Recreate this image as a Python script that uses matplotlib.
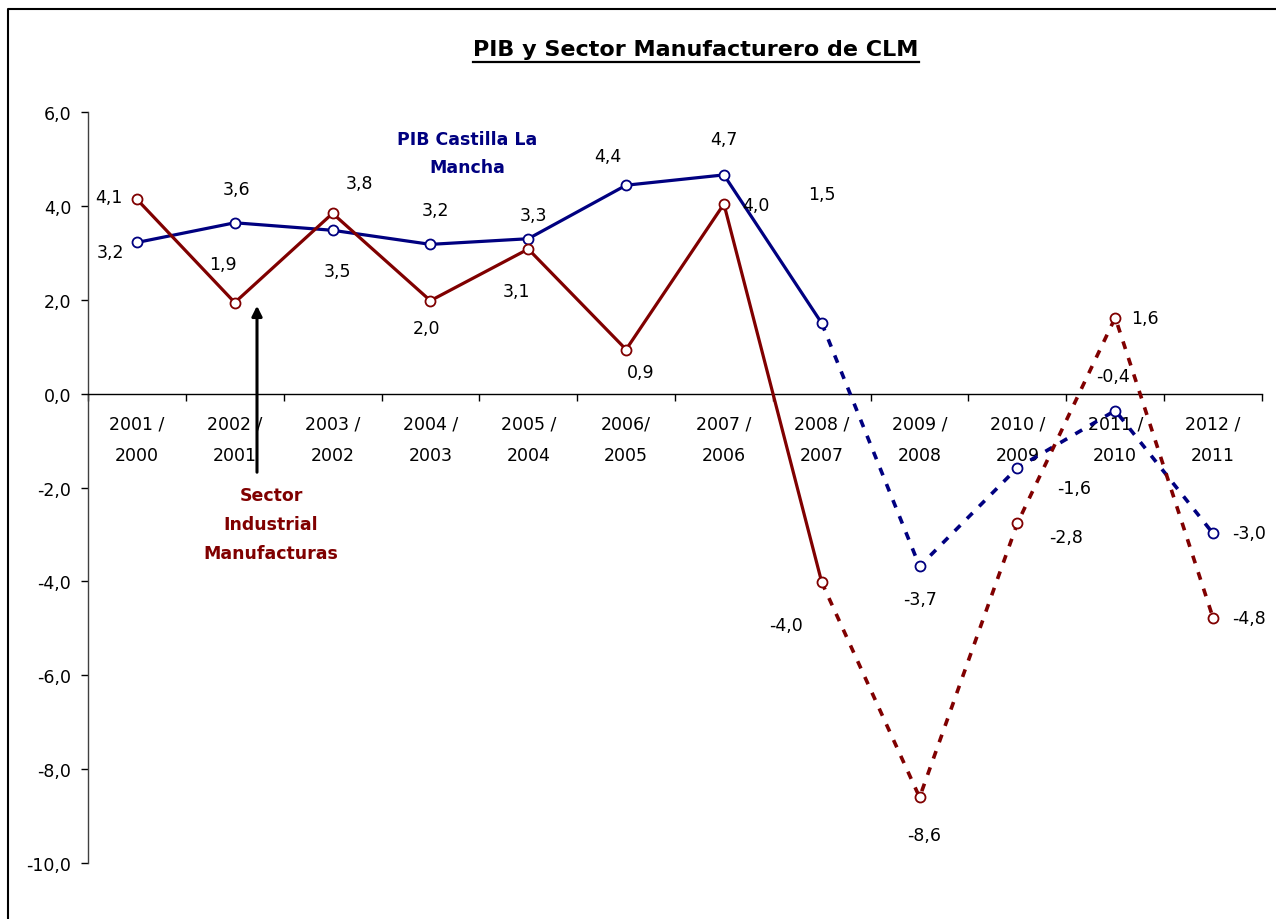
import matplotlib
matplotlib.use("Agg")
import matplotlib.pyplot as plt
import matplotlib.patches as mpatches
from matplotlib.ticker import FuncFormatter, FixedLocator
from matplotlib.lines import Line2D

plt.rcParams['font.family'] = ['DejaVu Sans']

periodos = ["2001 /\n2000", "2002 /\n2001", "2003 /\n2002", "2004 /\n2003",
            "2005 /\n2004", "2006/\n2005", "2007 /\n2006", "2008 /\n2007",
            "2009 /\n2008", "2010 /\n2009", "2011 /\n2010", "2012 /\n2011"]
pib = [3.22, 3.64, 3.48, 3.18, 3.30, 4.44, 4.66, 1.50, -3.68, -1.58, -0.36, -2.98]
manuf = [4.14, 1.94, 3.84, 1.98, 3.08, 0.94, 4.04, -4.02, -8.60, -2.76, 1.62, -4.78]
ultimo_real = 7  # desde aqui son previsiones (linea discontinua)

AZUL = "#000080"
ROJO = "#800000"
FS = 12.5

# desplazamiento de las etiquetas en pixeles (dx, dy hacia abajo)
off_pib = [(-26, 10), (2, -34), (5, 41), (5, -34), (5, -24), (-18, -29),
           (0, -36), (0, -129), (0, 33), (57, 20), (-2, -35), (36, 0)]
off_manuf = [(-28, -2), (-12, -39), (27, -30), (-4, 27), (-12, 42), (15, 22),
             (32, 1), (-36, 43), (5, 38), (49, 14), (30, 0), (36, 0)]

W, H = 1276, 920
fig = plt.figure(figsize=(W / 100, H / 100), dpi=100)
ax = fig.add_axes([88 / W, 1 - 864 / H, (1262 - 88) / W, (864 - 113) / H])

x = list(range(len(periodos)))
k = ultimo_real

for serie, col in ((pib, AZUL), (manuf, ROJO)):
    ax.plot(x[:k + 1], serie[:k + 1], color=col, lw=2.3, solid_capstyle="butt", zorder=3)
    ax.plot(x[k:], serie[k:], color=col, lw=2.6, dashes=(2.2, 2.6), zorder=3)
    ax.plot(x, serie, ls="none", marker="o", ms=7.2, mfc="white", mec=col, mew=1.3, zorder=4)

for serie, offs in ((pib, off_pib), (manuf, off_manuf)):
    for xi, v, (dx, dy) in zip(x, serie, offs):
        ax.annotate(f"{v:.1f}".replace(".", ","), (xi, v), xytext=(dx, -dy),
                    textcoords="offset pixels", ha="center", va="center",
                    fontsize=FS, color="black", zorder=5)

ax.set_xlim(-0.5, len(periodos) - 0.5)
ax.set_ylim(-10, 6)

ax.spines["top"].set_visible(False)
ax.spines["right"].set_visible(False)
ax.spines["bottom"].set_position(("data", 0))
ax.spines["bottom"].set_linewidth(1.0)
ax.spines["left"].set_linewidth(1.0)
ax.spines["left"].set_color("#404040")

ax.set_yticks(range(-10, 7, 2))
ax.yaxis.set_major_formatter(FuncFormatter(lambda v, p: f"{v:.1f}".replace(".", ",")))
ax.tick_params(axis="y", direction="out", length=5, width=1, pad=7, labelsize=FS)

ax.set_xticks(x)
ax.set_xticklabels(periodos, linespacing=2.0)
ax.tick_params(axis="x", which="major", length=0, pad=15, labelsize=FS)
ax.xaxis.set_minor_locator(FixedLocator([i - 0.5 for i in range(len(periodos) + 1)]))
ax.tick_params(axis="x", which="minor", direction="out", length=5, width=1)

fig.text(467 / W, 1 - 154 / H, "PIB Castilla La\nMancha", ha="center", va="center",
         fontsize=FS, fontweight="bold", color=AZUL, linespacing=1.78)
fig.text(271 / W, 1 - 525 / H, "Sector\nIndustrial\nManufacturas", ha="center", va="center",
         fontsize=FS, fontweight="bold", color=ROJO, linespacing=1.78)
fig.patches.append(mpatches.FancyArrowPatch(
    (257 / W, 1 - 476 / H), (257 / W, 1 - 304 / H), transform=fig.transFigure,
    arrowstyle="-|>,head_length=6,head_width=3", color="black", lw=2.2, mutation_scale=1))

titulo = fig.text(696 / W, 1 - 50 / H, "PIB y Sector Manufacturero de CLM", ha="center",
                  va="center", fontsize=16, fontweight="bold")
fig.canvas.draw()
bb = titulo.get_window_extent()
fig.add_artist(Line2D([bb.x0 / W, bb.x1 / W], [1 - 63 / H, 1 - 63 / H],
                      transform=fig.transFigure, color="black", lw=1.6))

# marco del grafico
fig.add_artist(Line2D([8 / W, 8 / W, 1], [0, 1 - 10 / H, 1 - 10 / H],
                      transform=fig.transFigure, color="black", lw=1.5))

fig.savefig("out.png", dpi=100, facecolor="white")
